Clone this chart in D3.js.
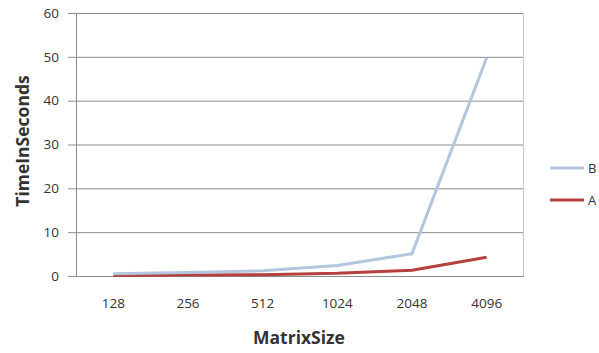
<!DOCTYPE html>
<html>
<head>
<meta charset="utf-8">
<script src="https://cdn.jsdelivr.net/npm/d3@7"></script>
<style>
  body { margin: 0; background: #fff; }
  text { font-family: "Open Sans", sans-serif; }
</style>
</head>
<body>
<svg id="chart" width="599" height="353"></svg>
<script>
// data
const categories = ['128', '256', '512', '1024', '2048', '4096'];
const seriesB = [0.5, 0.8, 1.2, 2.4, 5.1, 49.8];
const seriesA = [0.1, 0.2, 0.3, 0.6, 1.3, 4.3];
const yTicks = [0, 10, 20, 30, 40, 50, 60];

const series = [
  { name: 'B', values: seriesB, color: '#b3c6df' },
  { name: 'A', values: seriesA, color: '#b6403d' }
];

var margin = { top: 13, right: 75, bottom: 77, left: 76 };
var width = 599 - margin.left - margin.right;
var height = 353 - margin.top - margin.bottom;

let svg = d3.select('#chart');
let g = svg.append('g')
  .attr('transform', 'translate(' + margin.left + ',' + margin.top + ')');

var xScale = d3.scalePoint()
  .domain(categories)
  .range([0, width])
  .padding(0.5);

var yScale = d3.scaleLinear()
  .domain([0, 60])
  .range([height, 0]);

// gridlines
g.append('g')
  .selectAll('line')
  .data(yTicks)
  .enter().append('line')
  .attr('x1', -8)
  .attr('x2', width)
  .attr('y1', d => yScale(d) + 0.5)
  .attr('y2', d => yScale(d) + 0.5)
  .style('stroke', '#8c8c8c')
  .style('stroke-width', 1);

// left axis line and right border
g.append('line')
  .attr('x1', 0.5).attr('x2', 0.5)
  .attr('y1', 0).attr('y2', height)
  .style('stroke', '#8c8c8c');
g.append('line')
  .attr('x1', width - 0.5).attr('x2', width - 0.5)
  .attr('y1', 0).attr('y2', height)
  .style('stroke', '#c8c8c8');

// y tick labels
g.append('g')
  .selectAll('text')
  .data(yTicks)
  .enter().append('text')
  .attr('x', -17)
  .attr('y', d => yScale(d))
  .attr('dy', '0.35em')
  .attr('text-anchor', 'end')
  .style('font-size', '13.5px')
  .attr('fill', '#333')
  .text(d => d);

// x tick labels
g.append('g')
  .selectAll('text')
  .data(categories)
  .enter().append('text')
  .attr('x', d => xScale(d))
  .attr('y', height + 32)
  .attr('text-anchor', 'middle')
  .style('font-size', '13.5px')
  .attr('fill', '#333')
  .text(d => d);

// lines
var line = d3.line()
  .x((d, i) => xScale(categories[i]))
  .y(d => yScale(d));

g.append('g')
  .selectAll('path')
  .data(series.slice().reverse())
  .enter().append('path')
  .attr('d', d => line(d.values))
  .attr('fill', 'none')
  .attr('stroke', d => d.color)
  .attr('stroke-width', 3)
  .attr('stroke-linejoin', 'round');

// axis titles
svg.append('text')
  .attr('transform', 'translate(29,141) rotate(-90)')
  .attr('text-anchor', 'middle')
  .style('font-size', '17.5px')
  .style('font-weight', 'bold')
  .attr('fill', '#333')
  .text('TimeInSeconds');

svg.append('text')
  .attr('x', 299)
  .attr('y', 344)
  .attr('text-anchor', 'middle')
  .style('font-size', '17.5px')
  .style('font-weight', 'bold')
  .attr('fill', '#333')
  .text('MatrixSize');

// legend
let legend = svg.append('g')
  .selectAll('g')
  .data(series)
  .enter().append('g')
  .attr('transform', (d, i) => 'translate(550,' + (168 + i * 32) + ')');

legend.append('line')
  .attr('x1', 0).attr('x2', 34)
  .attr('stroke', d => d.color)
  .attr('stroke-width', 3);

legend.append('text')
  .attr('x', 38)
  .attr('dy', '0.35em')
  .style('font-size', '13px')
  .attr('fill', '#333')
  .text(d => d.name);
</script>
</body>
</html>
